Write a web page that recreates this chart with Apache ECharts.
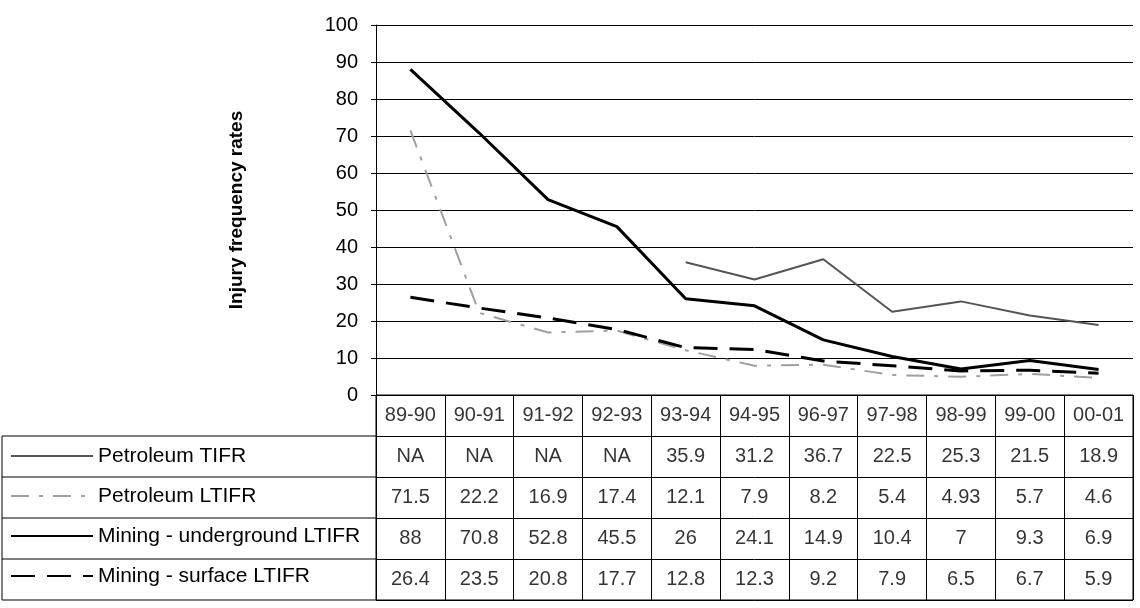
<!DOCTYPE html>
<html>
<head>
<meta charset="utf-8">
<script src="https://cdn.jsdelivr.net/npm/echarts@6/dist/echarts.min.js"></script>
<style>
  html, body { margin: 0; padding: 0; background: #fff; }
  #chart { width: 1140px; height: 608px; }
</style>
</head>
<body>
<div id="chart"></div>
<script>
// data
var years = ['89-90', '90-91', '91-92', '92-93', '93-94', '94-95', '96-97', '97-98', '98-99', '99-00', '00-01'];
var seriesNames = ['Petroleum TIFR', 'Petroleum LTIFR', 'Mining - underground LTIFR', 'Mining - surface LTIFR'];
var petroleumTifr = [null, null, null, null, 35.9, 31.2, 36.7, 22.5, 25.3, 21.5, 18.9];
var petroleumLtifr = [71.5, 22.2, 16.9, 17.4, 12.1, 7.9, 8.2, 5.4, 4.93, 5.7, 4.6];
var miningUnder = [88, 70.8, 52.8, 45.5, 26, 24.1, 14.9, 10.4, 7, 9.3, 6.9];
var miningSurface = [26.4, 23.5, 20.8, 17.7, 12.8, 12.3, 9.2, 7.9, 6.5, 6.7, 5.9];

var chart = echarts.init(document.getElementById('chart'));
var font = "'Liberation Sans', Arial, sans-serif";

// layout
var L = 376, R = 7, plotTop = 25, axisY = 395, tableBottom = 600;
var rowH = (tableBottom - axisY) / 5;

// table cells as scatter labels
var rows = [petroleumTifr, petroleumLtifr, miningUnder, miningSurface];
var cells = [];
years.forEach(function (y, c) { cells.push({ name: y, value: [c, 0] }); });
rows.forEach(function (arr, r) {
  arr.forEach(function (v, c) {
    cells.push({ name: v == null ? 'NA' : String(v), value: [c, r + 1] });
  });
});

// left column of the table (legend box)
var boxLines = [];
for (var k = 1; k <= 5; k++) {
  var yy = axisY + rowH * k;
  boxLines.push({ type: 'line', shape: { x1: 2, y1: yy, x2: L, y2: yy }, style: { stroke: '#000', lineWidth: 1 } });
}
boxLines.push({ type: 'line', shape: { x1: 2, y1: axisY + rowH, x2: 2, y2: tableBottom }, style: { stroke: '#000', lineWidth: 1 } });

var option = {
  animation: false,
  textStyle: { fontFamily: font },
  grid: [
    { left: L, right: R, top: plotTop, bottom: 608 - axisY },
    { left: L, right: R, top: axisY, bottom: 608 - tableBottom, show: true, borderColor: '#000', borderWidth: 1 }
  ],
  legend: {
    orient: 'vertical', left: 10, top: axisY + rowH * 1.5 - 11, padding: 0,
    itemWidth: 82, itemHeight: 22, itemGap: rowH - 22,
    data: seriesNames,
    itemStyle: { opacity: 0 },
    textStyle: { fontSize: 21, color: '#000', fontFamily: font }
  },
  xAxis: [
    {
      type: 'category', gridIndex: 0, data: years, boundaryGap: true,
      axisLine: { lineStyle: { color: '#000', width: 1 } },
      axisTick: { show: false }, axisLabel: { show: false }
    },
    {
      type: 'category', gridIndex: 1, data: years, boundaryGap: true,
      axisLine: { show: false }, axisTick: { show: false }, axisLabel: { show: false },
      splitLine: { show: true, interval: 0, lineStyle: { color: '#000', width: 1 } }
    }
  ],
  yAxis: [
    {
      type: 'value', gridIndex: 0, min: 0, max: 100, interval: 10,
      name: 'Injury frequency rates', nameLocation: 'middle', nameGap: 130,
      nameTextStyle: { fontSize: 19, fontWeight: 'bold', color: '#000', fontFamily: font },
      axisLine: { show: true, lineStyle: { color: '#000', width: 1 } },
      axisTick: { show: true, length: 5, lineStyle: { color: '#000' } },
      axisLabel: { fontSize: 20, color: '#000', margin: 18, fontFamily: font },
      splitLine: { lineStyle: { color: '#000', width: 1 } }
    },
    {
      type: 'category', gridIndex: 1, inverse: true, data: ['head'].concat(seriesNames),
      axisLine: { show: false }, axisTick: { show: false }, axisLabel: { show: false },
      splitLine: { show: true, interval: 0, lineStyle: { color: '#000', width: 1 } }
    }
  ],
  graphic: boxLines,
  series: [
    {
      name: seriesNames[0], type: 'line', data: petroleumTifr, symbol: 'none',
      lineStyle: { color: '#555', width: 2 }, itemStyle: { color: '#555' }
    },
    {
      name: seriesNames[1], type: 'line', data: petroleumLtifr, symbol: 'none',
      lineStyle: { color: '#a0a0a0', width: 2, type: [18, 10, 4, 10] }, itemStyle: { color: '#a0a0a0' }
    },
    {
      name: seriesNames[2], type: 'line', data: miningUnder, symbol: 'none',
      lineStyle: { color: '#000', width: 3 }, itemStyle: { color: '#000' }
    },
    {
      name: seriesNames[3], type: 'line', data: miningSurface, symbol: 'none',
      lineStyle: { color: '#000', width: 3, type: [24, 12] }, itemStyle: { color: '#000' }
    },
    {
      type: 'scatter', xAxisIndex: 1, yAxisIndex: 1, data: cells, symbolSize: 0,
      silent: true,
      label: { show: true, position: 'inside', formatter: '{b}', fontSize: 20, color: '#000', fontFamily: font }
    }
  ]
};

chart.setOption(option);
window.addEventListener('resize', chart.resize);
</script>
</body>
</html>
